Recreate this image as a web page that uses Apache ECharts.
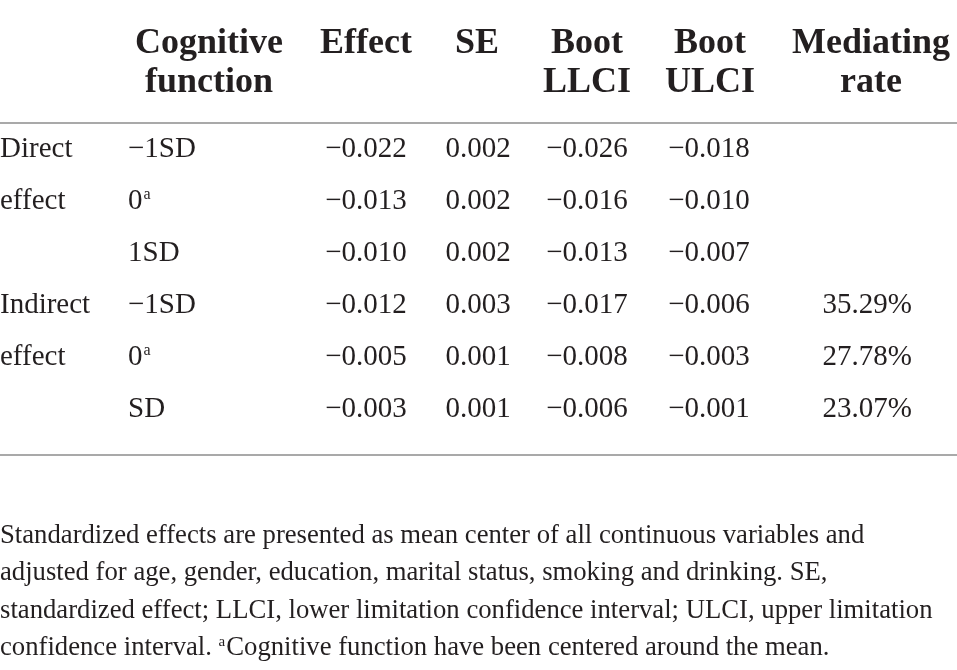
<!DOCTYPE html>
<html>
<head>
<meta charset="utf-8">
<script src="https://cdn.jsdelivr.net/npm/echarts@6/dist/echarts.min.js"></script>
<style>
  html, body { margin: 0; padding: 0; background: #fff; }
  #main { width: 957px; height: 670px; }
</style>
</head>
<body>
<div id="main"></div>
<script>
  // table data
  var headers = [["", ""], ["Cognitive", "function"], ["Effect", ""], ["SE", ""], ["Boot", "LLCI"], ["Boot", "ULCI"], ["Mediating", "rate"]];
  var effectType = ["Direct", "effect", "", "Indirect", "effect", ""];
  var cogLevel = ["\u22121SD", "0{sup|a}", "1SD", "\u22121SD", "0{sup|a}", "SD"];
  var effect = [-0.022, -0.013, -0.010, -0.012, -0.005, -0.003];
  var se = [0.002, 0.002, 0.002, 0.003, 0.001, 0.001];
  var bootLLCI = [-0.026, -0.016, -0.013, -0.017, -0.008, -0.006];
  var bootULCI = [-0.018, -0.010, -0.007, -0.006, -0.003, -0.001];
  var medRate = [null, null, null, 35.29, 27.78, 23.07];
  var notes = [
    "Standardized effects are presented as mean center of all continuous variables and",
    "adjusted for age, gender, education, marital status, smoking and drinking. SE,",
    "standardized effect; LLCI, lower limitation confidence interval; ULCI, upper limitation",
    "confidence interval. {sup|a}Cognitive function have been centered around the mean."
  ];

  var FONT = "Liberation Serif";
  var INK = "#231f20";
  var RULE = "#8c8c8c";

  // column anchors (x, align) in pixels
  var colX = [0, 128, 366, 478, 587, 709, 912];
  var colAlign = ["left", "left", "center", "center", "center", "center", "right"];
  var headX = [0, 209, 366, 477, 587, 710, 871];

  function fmt(v) {
    if (v == null) return "";
    return (v < 0 ? "\u2212" : "") + Math.abs(v).toFixed(3);
  }
  function pct(v) { return v == null ? "" : v.toFixed(2) + "%"; }

  var SUP = { sup: { fontFamily: FONT, fontSize: 16, color: INK, verticalAlign: "top", padding: [0, 0, 0, 1] } };

  function textSeries(col, texts) {
    var rows = [];
    texts.forEach(function (t, i) { if (t) rows.push([colX[col], i, t]); });
    return {
      type: "custom",
      coordinateSystem: "cartesian2d",
      silent: true,
      data: rows,
      renderItem: function (params, api) {
        var p = api.coord([api.value(0), api.value(1)]);
        return {
          type: "text",
          x: p[0],
          y: p[1],
          style: {
            text: rows[params.dataIndex][2],
            fontFamily: FONT,
            fontSize: 29,
            fill: INK,
            align: colAlign[col],
            verticalAlign: "middle",
            rich: SUP
          }
        };
      }
    };
  }

  var graphics = [];
  headers.forEach(function (h, c) {
    h.forEach(function (t, k) {
      if (!t) return;
      graphics.push({
        type: "text", x: headX[c], y: 44 + k * 39,
        style: { text: t, fontFamily: FONT, fontWeight: "bold", fontSize: 36, fill: INK, align: "center", verticalAlign: "middle" }
      });
    });
  });
  [123, 455].forEach(function (y) {
    graphics.push({ type: "line", shape: { x1: 0, y1: y, x2: 957, y2: y }, style: { stroke: RULE, lineWidth: 1.5 } });
  });
  notes.forEach(function (t, i) {
    graphics.push({
      type: "text", x: 0, y: 536 + i * 37.3,
      style: { text: t, fontFamily: FONT, fontSize: 26.7, fill: INK, align: "left", verticalAlign: "middle",
        rich: { sup: { fontFamily: FONT, fontSize: 15, color: INK, verticalAlign: "top", padding: [0, 1, 0, 0] } } }
    });
  });

  var chart = echarts.init(document.getElementById("main"));
  chart.setOption({
    animation: false,
    grid: { left: 0, right: 0, top: 123, height: 312 },
    xAxis: { type: "value", min: 0, max: 957, show: false },
    yAxis: { type: "category", inverse: true, data: effect.map(function (v, i) { return String(i); }), show: false },
    graphic: graphics,
    series: [
      textSeries(0, effectType),
      textSeries(1, cogLevel),
      textSeries(2, effect.map(fmt)),
      textSeries(3, se.map(fmt)),
      textSeries(4, bootLLCI.map(fmt)),
      textSeries(5, bootULCI.map(fmt)),
      textSeries(6, medRate.map(pct))
    ]
  });
</script>
</body>
</html>
